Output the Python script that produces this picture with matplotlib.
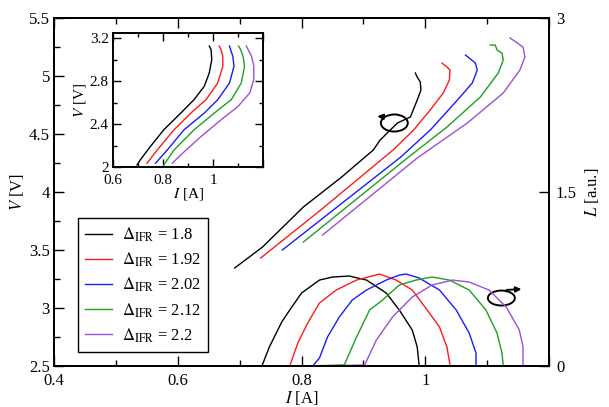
import matplotlib
matplotlib.use('Agg')
import matplotlib.pyplot as plt
from matplotlib.patches import Ellipse
from matplotlib.ticker import MultipleLocator, FuncFormatter

plt.rcParams['font.family'] = 'serif'
plt.rcParams['font.serif'] = ['Liberation Serif', 'DejaVu Serif']
plt.rcParams['mathtext.fontset'] = 'stix'

# Data
deltas = ['1.8', '1.92', '2.02', '2.12', '2.2']
colors = ['black', '#ff1a1a', '#1a1aff', '#1f9f1f', '#9a50d4']

# V-I curves (main axes, left scale)
v_i = [
    [0.692, 0.737, 0.803, 0.863, 0.916, 0.927, 0.955, 0.976, 0.987, 0.993, 0.992, 0.987, 0.984],
    [0.734, 0.831, 0.948, 0.981, 1.008, 1.029, 1.039, 1.040, 1.035, 1.027],
    [0.769, 0.960, 1.008, 1.052, 1.076, 1.084, 1.081, 1.070, 1.065],
    [0.803, 0.971, 1.035, 1.089, 1.118, 1.126, 1.124, 1.116, 1.113, 1.105],
    [0.834, 0.987, 1.068, 1.126, 1.153, 1.161, 1.158, 1.142, 1.137],
]
v_v = [
    [3.345, 3.526, 3.871, 4.121, 4.362, 4.448, 4.595, 4.647, 4.793, 4.879, 4.948, 4.991, 5.026],
    [3.431, 3.845, 4.362, 4.534, 4.707, 4.853, 4.966, 5.052, 5.078, 5.112],
    [3.500, 4.300, 4.534, 4.793, 4.940, 5.052, 5.112, 5.160, 5.181],
    [3.569, 4.293, 4.560, 4.819, 5.026, 5.138, 5.198, 5.224, 5.267, 5.267],
    [3.629, 4.293, 4.595, 4.853, 5.052, 5.164, 5.250, 5.310, 5.328],
]

# L-I curves (right scale)
l_i = [
    [0.692, 0.736, 0.748, 0.768, 0.781, 0.800, 0.829, 0.850, 0.877, 0.905, 0.937, 0.958, 0.979, 0.987, 0.990],
    [0.734, 0.781, 0.794, 0.810, 0.829, 0.856, 0.889, 0.926, 0.953, 0.979, 1.003, 1.023, 1.035, 1.040],
    [0.769, 0.818, 0.829, 0.842, 0.861, 0.882, 0.905, 0.937, 0.958, 0.969, 0.990, 1.023, 1.050, 1.071, 1.082, 1.082],
    [0.803, 0.869, 0.889, 0.910, 0.931, 0.958, 0.985, 1.011, 1.039, 1.071, 1.098, 1.116, 1.124, 1.126],
    [0.834, 0.902, 0.921, 0.947, 0.979, 1.011, 1.044, 1.071, 1.103, 1.131, 1.152, 1.158, 1.158],
]
l_l = [
    [0.0, 0.0, 0.164, 0.379, 0.483, 0.629, 0.741, 0.767, 0.776, 0.741, 0.629, 0.483, 0.310, 0.164, 0.009],
    [0.0, 0.0, 0.198, 0.371, 0.543, 0.655, 0.741, 0.793, 0.741, 0.655, 0.483, 0.336, 0.164, 0.009],
    [0.0, 0.0, 0.069, 0.250, 0.422, 0.569, 0.655, 0.741, 0.784, 0.793, 0.759, 0.655, 0.483, 0.284, 0.112, 0.009],
    [0.0, 0.009, 0.250, 0.483, 0.569, 0.698, 0.741, 0.767, 0.741, 0.655, 0.483, 0.284, 0.112, 0.009],
    [0.0, 0.009, 0.224, 0.422, 0.595, 0.698, 0.741, 0.724, 0.655, 0.508, 0.310, 0.164, 0.009],
]

# inset V-I curves
in_i = [
    [0.696, 0.709, 0.749, 0.803, 0.871, 0.924, 0.965, 0.985, 0.995, 0.992, 0.985],
    [0.736, 0.777, 0.844, 0.911, 0.972, 1.019, 1.039, 1.039, 1.032, 1.025],
    [0.770, 0.817, 0.884, 0.965, 1.019, 1.066, 1.084, 1.079, 1.070, 1.066],
    [0.803, 0.844, 0.924, 1.005, 1.073, 1.113, 1.126, 1.120, 1.110, 1.102],
    [0.837, 0.878, 0.952, 1.032, 1.100, 1.147, 1.163, 1.163, 1.154, 1.140, 1.133],
]
in_v = [
    [2.019, 2.066, 2.190, 2.347, 2.503, 2.628, 2.753, 2.878, 3.003, 3.097, 3.128],
    [2.035, 2.159, 2.347, 2.503, 2.628, 2.784, 2.940, 3.034, 3.097, 3.128],
    [2.035, 2.159, 2.347, 2.503, 2.628, 2.784, 2.940, 3.034, 3.097, 3.128],
    [2.019, 2.159, 2.347, 2.503, 2.628, 2.784, 2.940, 3.034, 3.097, 3.128],
    [2.035, 2.128, 2.284, 2.440, 2.565, 2.691, 2.815, 2.940, 3.034, 3.097, 3.128],
]

fmt = FuncFormatter(lambda v, p: '%g' % v)
# the last x tick (1.2) carries no label in the original
xfmt = FuncFormatter(lambda v, p: '' if abs(v - 1.2) < 1e-6 else '%g' % v)

fig = plt.figure(figsize=(6.09, 4.07), dpi=100)
ax = fig.add_axes([0.0887, 0.1007, 0.8128, 0.855])
ax2 = ax.twinx()

for k in range(5):
    ax.plot(v_i[k], v_v[k], color=colors[k], lw=1.0,
            label=r'$\Delta_{\rm IFR}$ = ' + deltas[k])
    ax2.plot(l_i[k], l_l[k], color=colors[k], lw=1.0)

ax.set_xlim(0.4, 1.2)
ax.set_ylim(2.5, 5.5)
ax2.set_ylim(0, 3)
ax.xaxis.set_major_locator(MultipleLocator(0.2))
ax.xaxis.set_minor_locator(MultipleLocator(0.1))
ax.yaxis.set_major_locator(MultipleLocator(0.5))
ax.yaxis.set_minor_locator(MultipleLocator(0.25))
ax.xaxis.set_major_formatter(xfmt)
ax.yaxis.set_major_formatter(fmt)
ax2.set_yticks([0, 1.5, 3])
ax2.yaxis.set_major_formatter(fmt)

ax.tick_params(which='both', direction='in', top=True, right=False, labelsize=12, pad=3, width=1.0)
ax.tick_params(axis='x', pad=5)
ax.tick_params(which='major', length=7)
ax.tick_params(which='minor', length=4)
ax2.tick_params(direction='in', length=7, labelsize=12, pad=5, width=1.0)
for a in (ax, ax2):
    for s in a.spines.values():
        s.set_linewidth(1.4)

ax.set_xlabel(r'$I$ [A]', fontsize=12, labelpad=0)
ax.set_ylabel(r'$V$ [V]', fontsize=12, labelpad=2)
ax2.set_ylabel(r'$L$ [a.u.]', fontsize=12, labelpad=4)

leg = ax.legend(loc='lower left', bbox_to_anchor=(0.048, 0.04), borderaxespad=0,
                fontsize=12, handlelength=1.6, handletextpad=0.6, labelspacing=0.4,
                fancybox=False, edgecolor='black', framealpha=1, borderpad=0.45)
leg.get_frame().set_linewidth(1.0)

# rotation markers
ax.add_patch(Ellipse((0.950, 4.595), 0.0435, 0.147, fill=False, lw=1.4, color='black'))
ax.annotate('', xy=(0.918, 4.655), xytext=(0.934, 4.648),
            arrowprops=dict(arrowstyle='-|>', color='black', lw=1.4, mutation_scale=8))
ax2.add_patch(Ellipse((1.123, 0.586), 0.0435, 0.129, fill=False, lw=1.4, color='black'))
ax2.annotate('', xy=(1.160, 0.664), xytext=(1.127, 0.655),
             arrowprops=dict(arrowstyle='-|>', color='black', lw=1.4, mutation_scale=8))

# inset
axi = fig.add_axes([0.1856, 0.5897, 0.2463, 0.3292])
for k in range(5):
    axi.plot(in_i[k], in_v[k], color=colors[k], lw=1.0)
axi.set_xlim(0.6, 1.2)
axi.set_ylim(2.0, 3.25)
axi.xaxis.set_major_locator(MultipleLocator(0.2))
axi.xaxis.set_minor_locator(MultipleLocator(0.1))
axi.yaxis.set_major_locator(MultipleLocator(0.4))
axi.yaxis.set_minor_locator(MultipleLocator(0.2))
axi.xaxis.set_major_formatter(xfmt)
axi.yaxis.set_major_formatter(fmt)
axi.tick_params(which='both', direction='in', top=True, right=True, labelsize=11, pad=3, width=1.0)
axi.tick_params(axis='x', pad=5)
axi.tick_params(which='major', length=6)
axi.tick_params(which='minor', length=3)
for s in axi.spines.values():
    s.set_linewidth(1.4)
axi.set_xlabel(r'$I$ [A]', fontsize=11, labelpad=-1)
axi.set_ylabel(r'$V$ [V]', fontsize=11, labelpad=1)

fig.savefig('out.png', dpi=100)
